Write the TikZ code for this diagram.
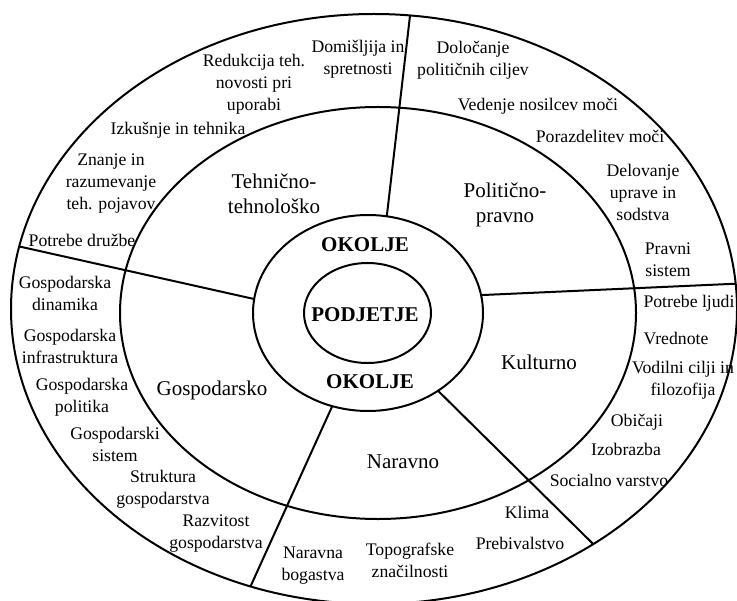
\documentclass[tikz,border=0pt]{standalone}
\usepackage{fontspec}
\setmainfont{Liberation Serif}
\usepackage{tikz}
\usetikzlibrary{
    shapes.geometric,
    positioning
}
\tikzstyle{ring} = [
    ellipse,
    draw,
    line width=1pt,
    inner sep=0pt,
    outer sep=0pt
]
\tikzstyle{item} = [
    align=center,
    inner sep=0pt,
    font=\fontsize{8.85pt}{11pt}\selectfont
]
\tikzstyle{sector} = [
    align=center,
    inner sep=0pt,
    font=\fontsize{10.5pt}{12.5pt}\selectfont
]
\tikzstyle{core} = [
    inner sep=0pt,
    font=\fontsize{10.5pt}{12.5pt}\selectfont\bfseries
]
\tikzstyle{divider} = [
    line width=1pt
]

\begin{document}
\begin{tikzpicture}[x=0.5pt, y=0.5pt]
        \useasboundingbox (0,0) rectangle (737,600);

        \node[ring, minimum width=363pt, minimum height=295pt] (outer) at (374,291) {};
        \node[ring, minimum width=258pt, minimum height=206pt] (middle) at (378,287) {};
        \node[ring, minimum width=115pt, minimum height=98pt] (okolje) at (368,287) {};
        \node[ring, minimum width=63.5pt, minimum height=50pt] (podjetje) at (367.5,287) {};

        \draw[divider] (okolje.79) -- (outer.83.2);
        \draw[divider] (okolje.173.6) -- (outer.170.9);
        \draw[divider] (okolje.9.2) -- (outer.4.75);
        \draw[divider] (okolje.249.4) -- (outer.246.8);
        \draw[divider] (okolje.312.3) -- (outer.313.5);

        \node[core] (env1) at (365,355) {OKOLJE};
        \node[core] (firm) at (365,285) {PODJETJE};
        \node[core] (env2) at (370,218) {OKOLJE};

        \node[sector] (teh) at (274,406) {Tehnično-\\tehnološko};
        \node[sector] (pol) at (505,395) {Politično-\\pravno};
        \node[sector] (gos) at (212,210) {Gospodarsko};
        \node[sector] (kul) at (539,238) {Kulturno};
        \node[sector] (nar) at (403,138) {Naravno};

        \node[item] (t1) at (358,541) {Domišljija in\\spretnosti};
        \node[item] (t2) at (254,516) {Redukcija teh.\\novosti pri\\uporabi};
        \node[item] (t3) at (178,470) {Izkušnje in tehnika};
        \node[item] (t4) at (111,416) {Znanje in\\razumevanje\\teh. pojavov};
        \node[item] (t5) at (82,360) {Potrebe družbe};

        \node[item] (g1) at (65,307) {Gospodarska\\dinamika};
        \node[item] (g2) at (70,254) {Gospodarska\\infrastruktura};
        \node[item] (g3) at (82,203) {Gospodarska\\politika};
        \node[item] (g4) at (115,156) {Gospodarski\\sistem};
        \node[item] (g5) at (163,111) {Struktura\\gospodarstva};
        \node[item] (g6) at (216,66) {Razvitost\\gospodarstva};

        \node[item] (n1) at (313,34) {Naravna\\bogastva};
        \node[item] (n2) at (410,40) {Topografske\\značilnosti};
        \node[item] (n3) at (520,57) {Prebivalstvo};
        \node[item] (n4) at (527,88) {Klima};

        \node[item] (k1) at (609,120) {Socialno varstvo};
        \node[item] (k2) at (626,151) {Izobrazba};
        \node[item] (k3) at (637,178) {Običaji};
        \node[item] (k4) at (683,220) {Vodilni cilji in\\filozofija};
        \node[item] (k5) at (676,262) {Vrednote};
        \node[item] (k6) at (689,297) {Potrebe ljudi};

        \node[item] (p1) at (668,340) {Pravni\\sistem};
        \node[item] (p2) at (643,408) {Delovanje\\uprave in\\sodstva};
        \node[item] (p3) at (600,464) {Porazdelitev moči};
        \node[item] (p4) at (538,494) {Vedenje nosilcev moči};
        \node[item] (p5) at (473,540) {Določanje\\političnih ciljev};
    \end{tikzpicture}
\end{document}
